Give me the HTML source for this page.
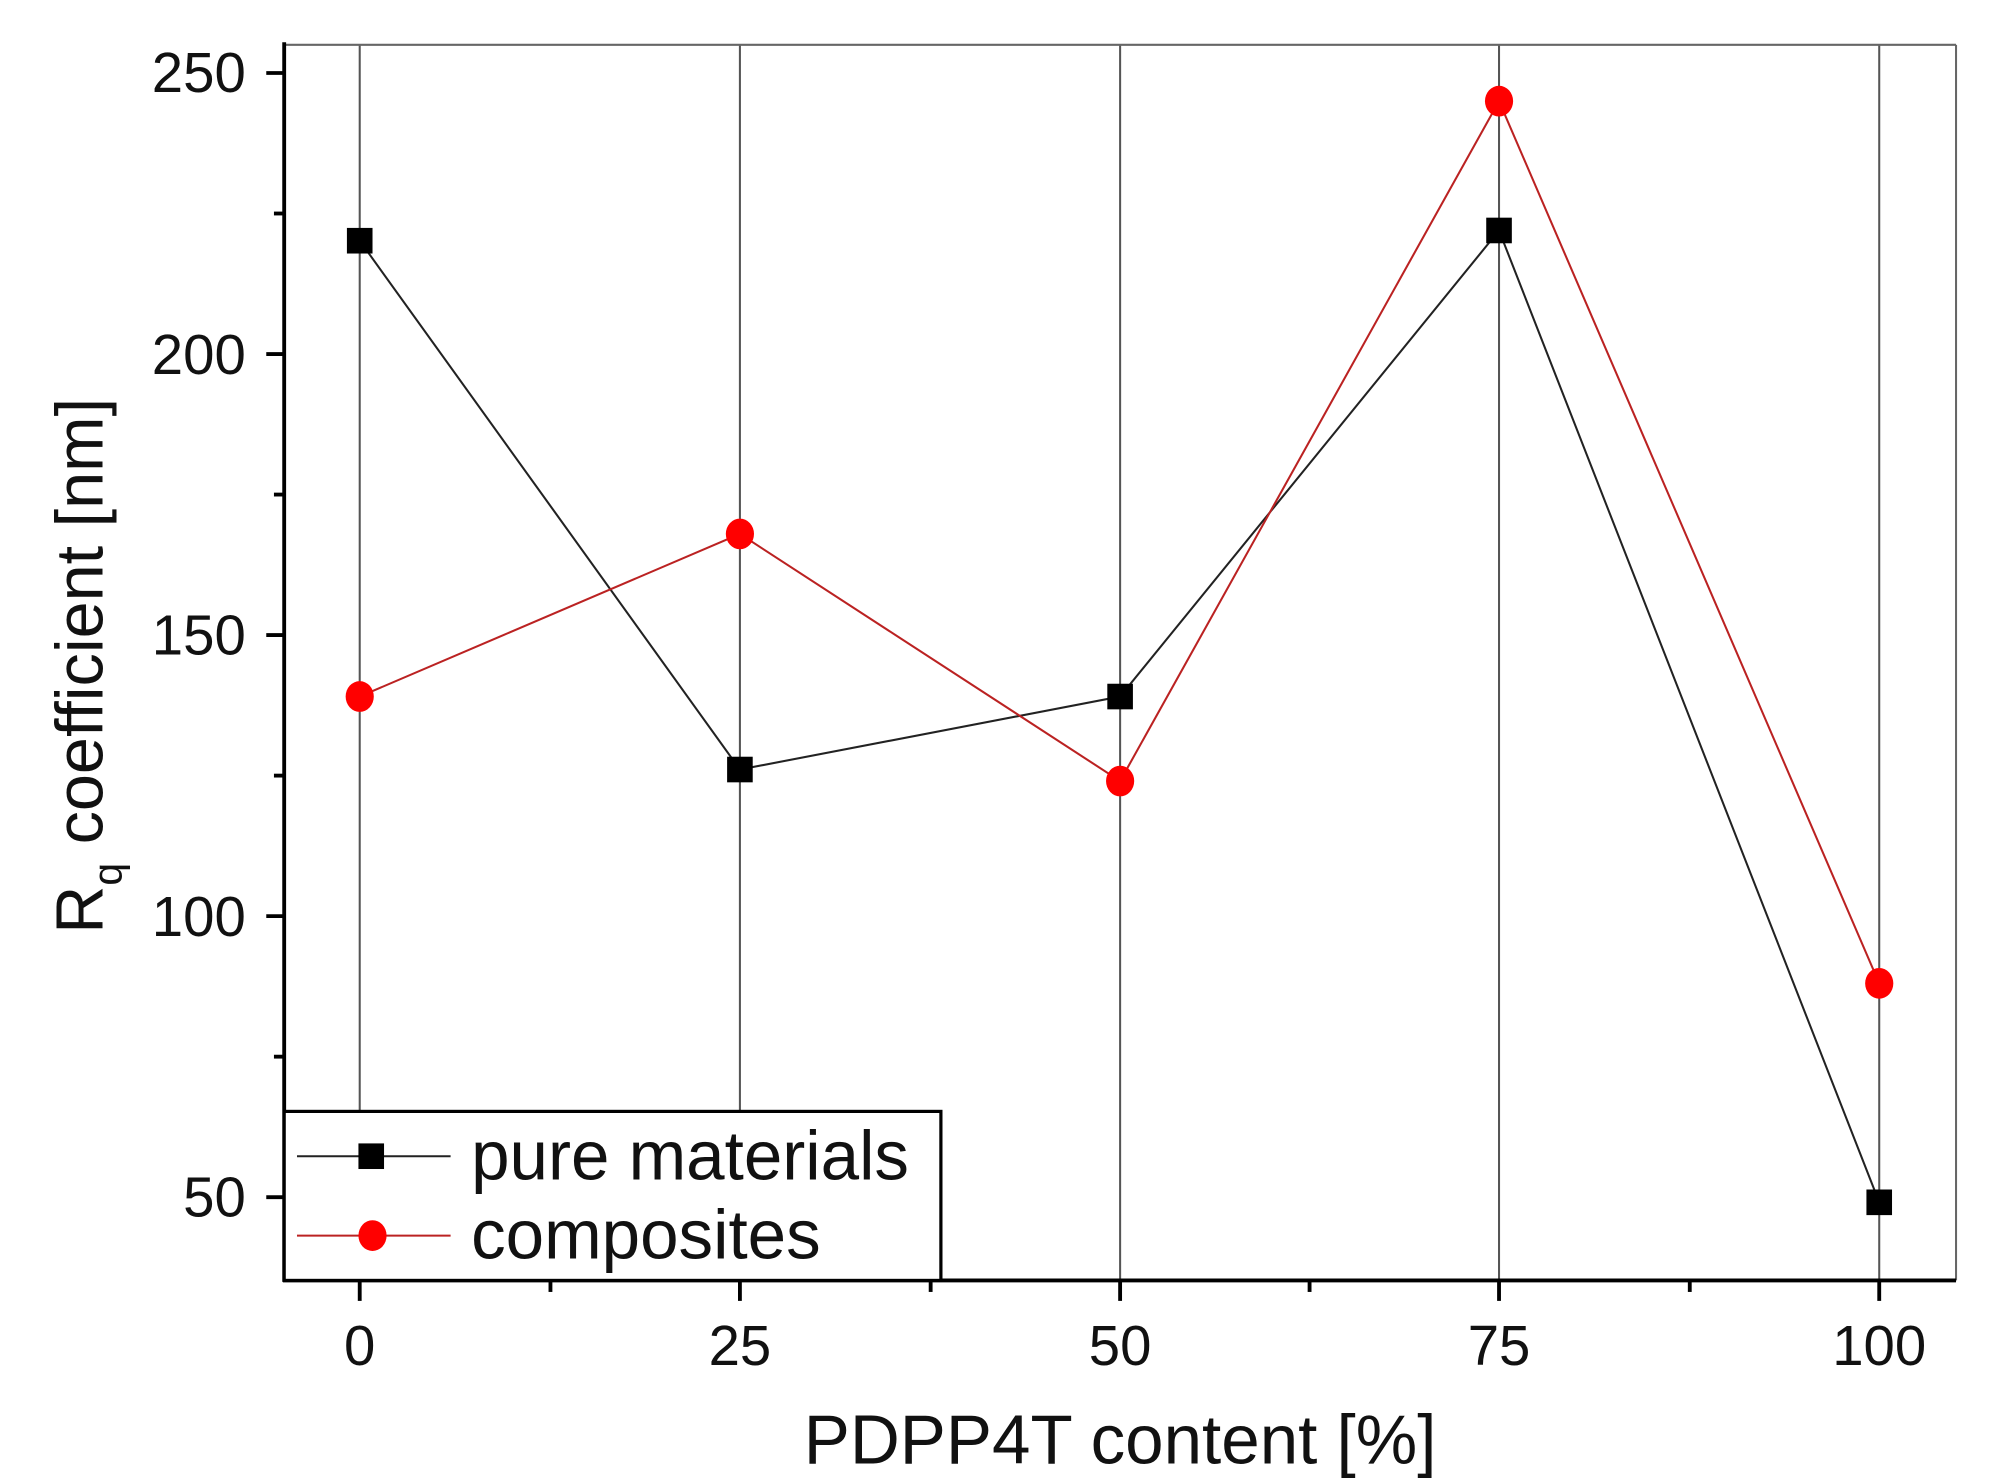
<!DOCTYPE html>
<html><head><style>html,body{margin:0;padding:0;background:#fff}svg{display:block}</style></head>
<body>
<svg width="1997" height="1484" viewBox="0 0 1560 1159" preserveAspectRatio="none" xmlns="http://www.w3.org/2000/svg" font-family="Liberation Sans, Arial, sans-serif">
<rect width="1560" height="1159" fill="#fff"/>
<g stroke="#555" stroke-width="1.6">
<line x1="281" y1="35" x2="281" y2="1000"/>
<line x1="578" y1="35" x2="578" y2="1000"/>
<line x1="875" y1="35" x2="875" y2="1000"/>
<line x1="1171" y1="35" x2="1171" y2="1000"/>
<line x1="1468" y1="35" x2="1468" y2="1000"/>
</g>
<line x1="222" y1="35" x2="1528" y2="35" stroke="#666" stroke-width="1.6"/>
<line x1="1528" y1="35" x2="1528" y2="1000" stroke="#666" stroke-width="1.6"/>
<line x1="222" y1="33" x2="222" y2="1001" stroke="#000" stroke-width="3"/>
<line x1="221" y1="1000" x2="1528" y2="1000" stroke="#000" stroke-width="3"/>
<g stroke="#000" stroke-width="3">
<line x1="208" y1="57" x2="222" y2="57"/><line x1="208" y1="276.5" x2="222" y2="276.5"/><line x1="208" y1="496" x2="222" y2="496"/><line x1="208" y1="715.5" x2="222" y2="715.5"/><line x1="208" y1="935" x2="222" y2="935"/>
<line x1="214" y1="166.75" x2="222" y2="166.75"/><line x1="214" y1="386.25" x2="222" y2="386.25"/><line x1="214" y1="605.75" x2="222" y2="605.75"/><line x1="214" y1="825.25" x2="222" y2="825.25"/>
<line x1="281" y1="1000" x2="281" y2="1016"/><line x1="578" y1="1000" x2="578" y2="1016"/><line x1="875" y1="1000" x2="875" y2="1016"/><line x1="1171" y1="1000" x2="1171" y2="1016"/><line x1="1468" y1="1000" x2="1468" y2="1016"/>
<line x1="430" y1="1000" x2="430" y2="1009"/><line x1="727" y1="1000" x2="727" y2="1009"/><line x1="1023" y1="1000" x2="1023" y2="1009"/><line x1="1320" y1="1000" x2="1320" y2="1009"/>
</g>
<g font-size="44" fill="#111" text-anchor="end">
<text x="192" y="72">250</text><text x="192" y="292">200</text><text x="192" y="511">150</text><text x="192" y="731">100</text><text x="192" y="950">50</text>
</g>
<g font-size="44" fill="#111" text-anchor="middle">
<text x="281" y="1066">0</text><text x="578" y="1066">25</text><text x="875" y="1066">50</text><text x="1171" y="1066">75</text><text x="1468" y="1066">100</text>
</g>
<text x="875" y="1143" font-size="54" text-anchor="middle" fill="#111">PDPP4T content [%]</text>
<text transform="translate(80,520) rotate(-90)" font-size="52" text-anchor="middle" fill="#111">R<tspan font-size="32" dy="15">q</tspan><tspan dy="-15"> coefficient [nm]</tspan></text>
<polyline fill="none" stroke="#222" stroke-width="1.6" points="281,188 578,601 875,544 1171,180 1468,939"/>
<polyline fill="none" stroke="#b22" stroke-width="1.6" points="281,544 578,417 875,610 1171,79 1468,768"/>
<g fill="#000">
<rect x="271" y="178" width="20" height="20"/><rect x="568" y="591" width="20" height="20"/><rect x="865" y="534" width="20" height="20"/><rect x="1161" y="170" width="20" height="20"/><rect x="1458" y="929" width="20" height="20"/>
</g>
<g fill="#f00">
<ellipse cx="281" cy="544" rx="11" ry="12"/><ellipse cx="578" cy="417" rx="11" ry="12"/><ellipse cx="875" cy="610" rx="11" ry="12"/><ellipse cx="1171" cy="79" rx="11" ry="12"/><ellipse cx="1468" cy="768" rx="11" ry="12"/>
</g>
<rect x="222" y="868" width="513" height="132" fill="#fff" stroke="#000" stroke-width="2.5"/>
<line x1="232" y1="903" x2="352" y2="903" stroke="#222" stroke-width="1.6"/>
<rect x="280" y="893" width="20" height="20" fill="#000"/>
<line x1="232" y1="965" x2="352" y2="965" stroke="#b22" stroke-width="1.6"/>
<ellipse cx="291" cy="965" rx="11" ry="12" fill="#f00"/>
<g font-size="54" fill="#111"><text x="368" y="921">pure materials</text><text x="368" y="983">composites</text></g>
</svg>
</body></html>
